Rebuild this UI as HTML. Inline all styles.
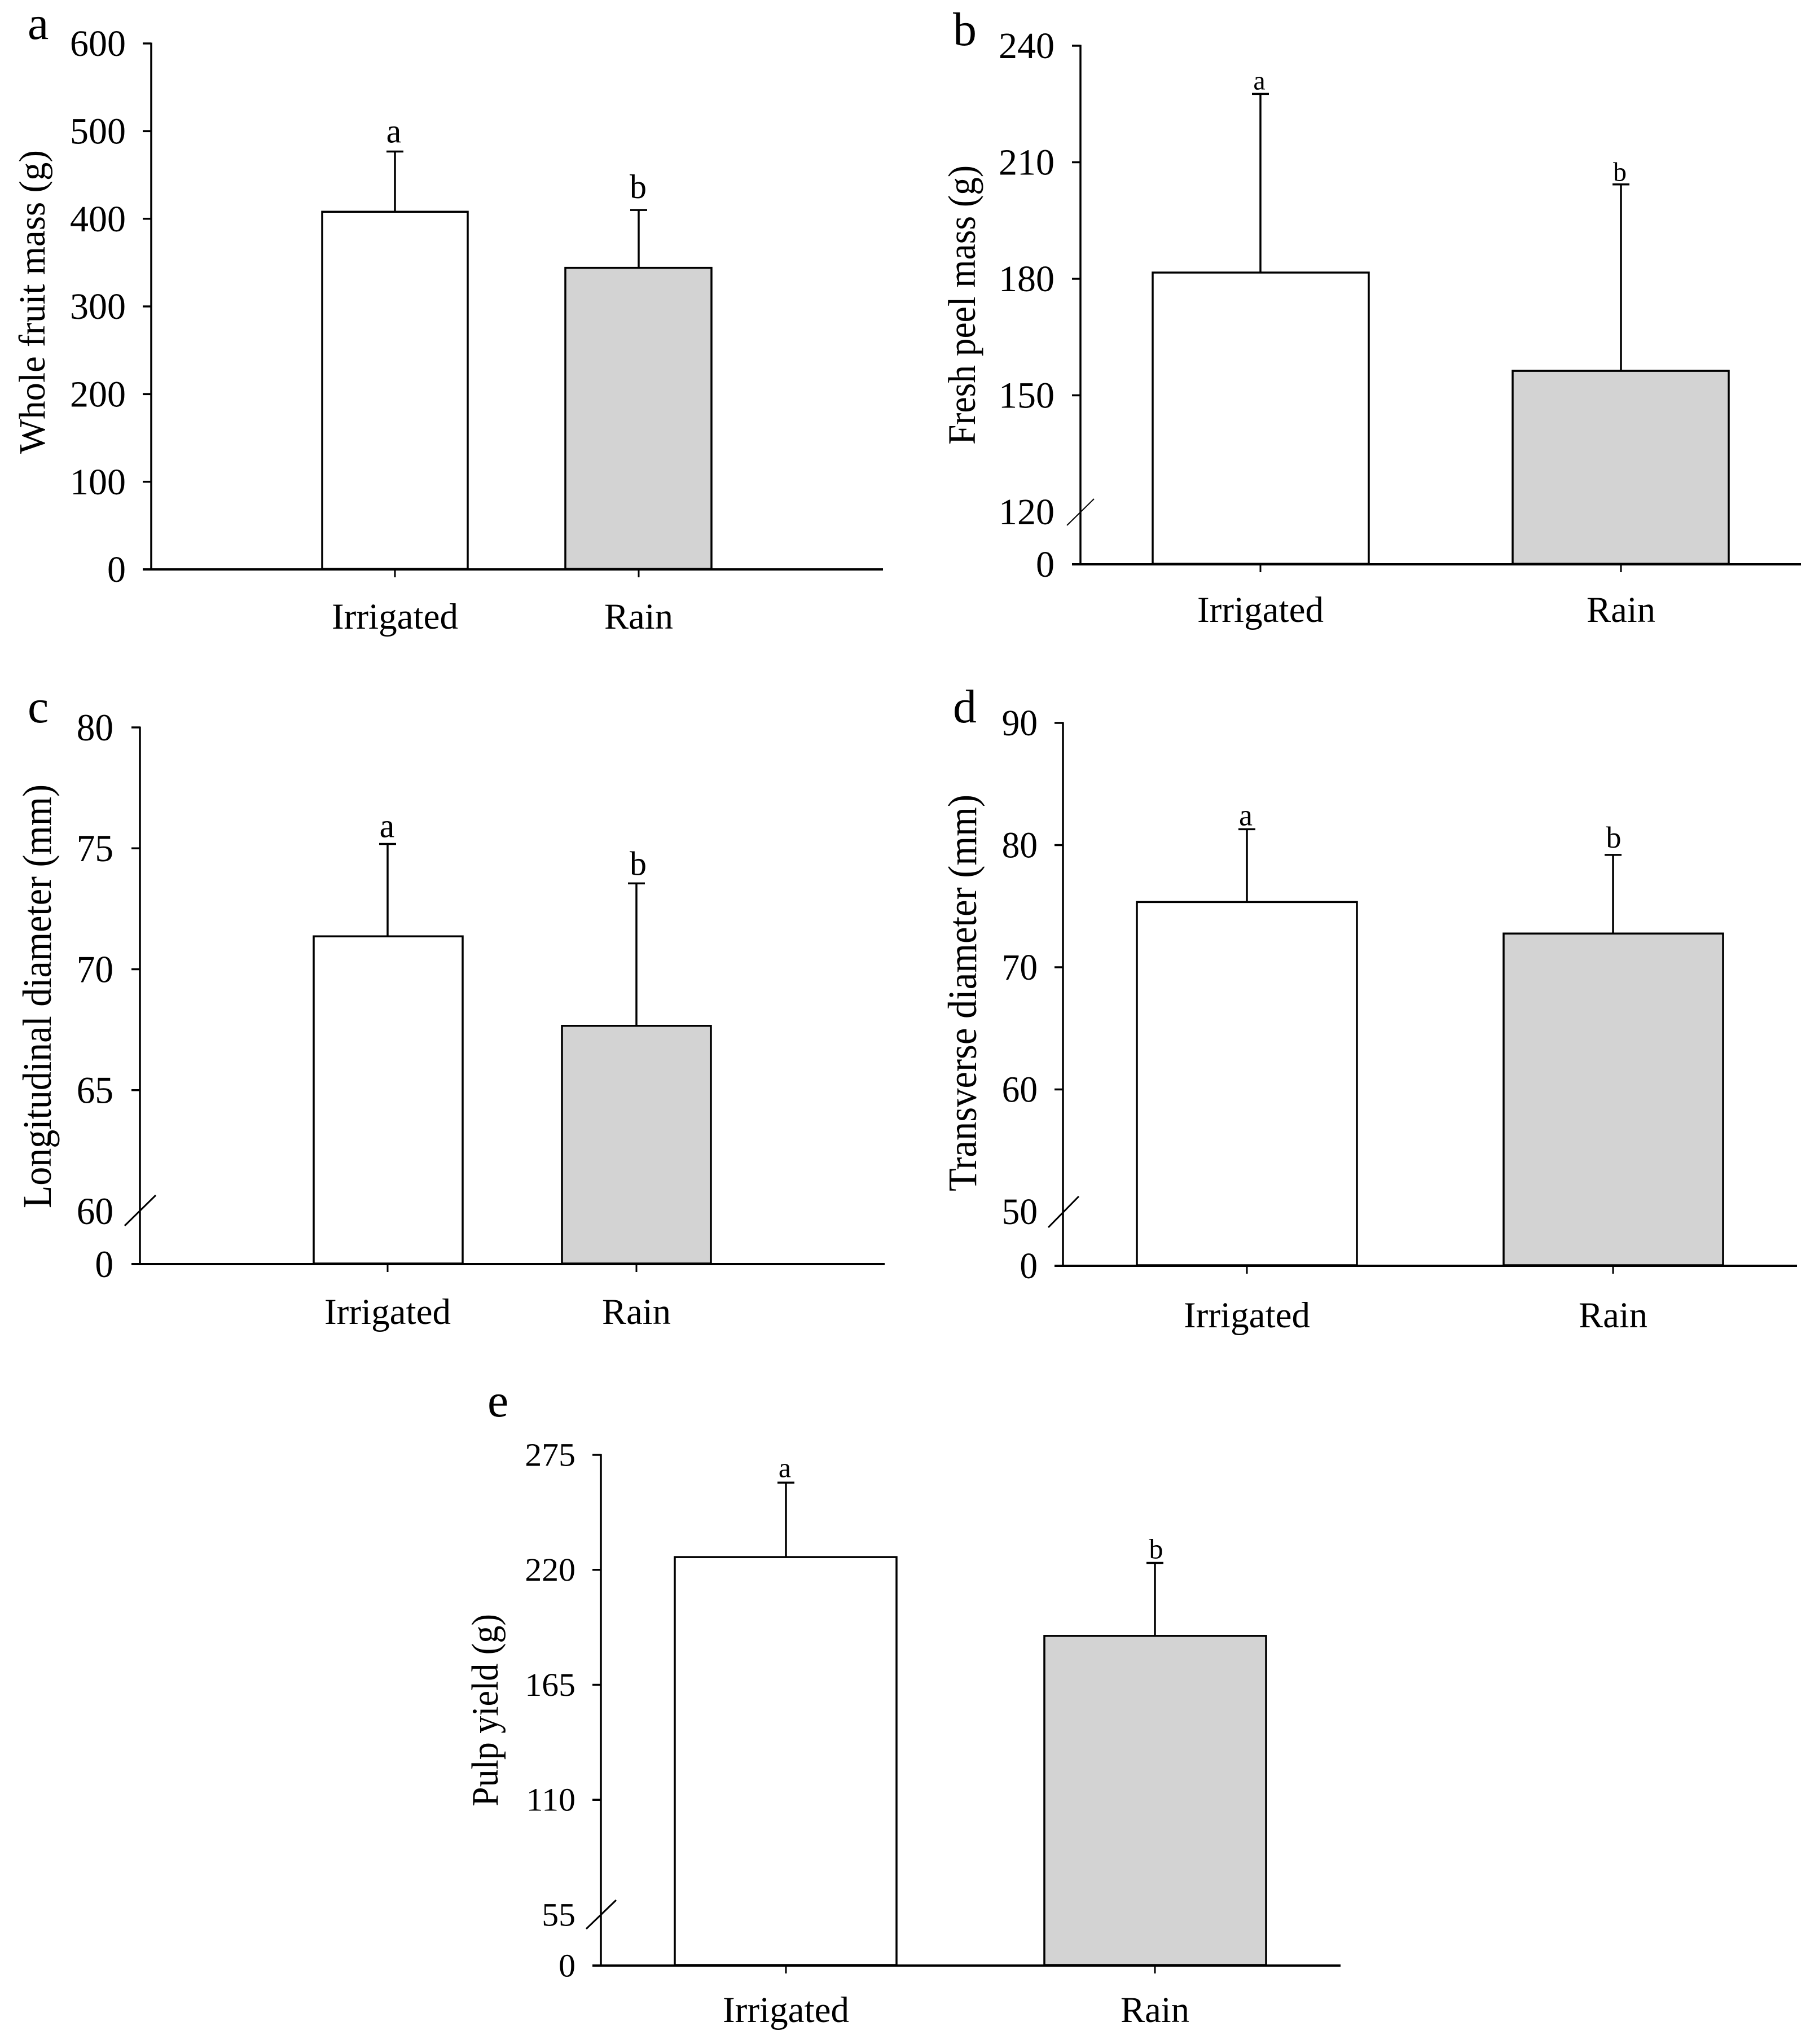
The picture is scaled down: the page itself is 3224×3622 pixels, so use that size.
<!DOCTYPE html>
<html lang="en">
<head>
<meta charset="utf-8">
<title>Fruit mass and size under irrigated and rain conditions</title>
<style>
html,body{margin:0;padding:0;background:#fff;}
svg{display:block;}
text{font-family:"Liberation Serif","Times New Roman",serif;fill:#000;}
</style>
</head>
<body>
<svg id="figure" xmlns="http://www.w3.org/2000/svg" width="3224" height="3622" viewBox="0 0 3224 3622">
<rect x="0" y="0" width="3224" height="3622" fill="#ffffff"/>
</svg>
<script>
const categories = ['Irrigated', 'Rain'];
const significance = ['a', 'b'];

const aTicks = [0, 100, 200, 300, 400, 500, 600];
const aMeans = [408, 344];
const aErrors = [68.7, 66];

const bTicks = [0, 120, 150, 180, 210, 240];
const bMeans = [181.6, 156.3];
const bErrors = [46, 48];

const cTicks = [0, 60, 65, 70, 75, 80];
const cMeans = [71.36, 67.66];
const cErrors = [3.82, 5.89];

const dTicks = [0, 50, 60, 70, 80, 90];
const dMeans = [75.34, 72.76];
const dErrors = [5.96, 6.44];

const eTicks = [0, 55, 110, 165, 220, 275];
const eMeans = [226.1, 188.4];
const eErrors = [35.6, 34.9];

const panels = [
  {id:'a', title:'Whole fruit mass (g)', ticks:aTicks, means:aMeans, errors:aErrors, breakValue:0,
   axisX:268, xEnd:1565, y0:1009, yTop:77, yBreak:1009, barEdges:[[571,829],[1002,1261]], centers:[700,1132],
   slash:null, slashWidth:2, tickFont:66, tickSx:1, tickRight:223, sigFont:60, sigGap:[16,21], sigDx:[-2,-1],
   labelY:1114, letter:[49,69], titleX:79, titleBottom:804, titleLen:538, titleFont:66},
  {id:'b', title:'Fresh peel mass (g)', ticks:bTicks, means:bMeans, errors:bErrors, breakValue:120,
   axisX:1915, xEnd:3192, y0:1000, yTop:81, yBreak:907, barEdges:[[2043,2426],[2681,3064]], centers:[2234,2873],
   slash:[1891,931,1939,884], slashWidth:2, tickFont:66, tickSx:1, tickRight:1869, sigFont:48, sigGap:[8,6], sigDx:[-2,-2],
   labelY:1102, letter:[1689,80], titleX:1728, titleBottom:788, titleLen:495, titleFont:69},
  {id:'c', title:'Longitudinal diameter (mm)', ticks:cTicks, means:cMeans, errors:cErrors, breakValue:60,
   axisX:248, xEnd:1568, y0:2240, yTop:1289, yBreak:2146, barEdges:[[556,820],[996,1260]], centers:[687,1128],
   slash:[221,2172,276,2118], slashWidth:3, tickFont:68, tickSx:0.96, tickRight:201, sigFont:60, sigGap:[12,15], sigDx:[-1,3],
   labelY:2346, letter:[49,1280], titleX:90, titleBottom:2141, titleLen:751, titleFont:72},
  {id:'d', title:'Transverse diameter (mm)', ticks:dTicks, means:dMeans, errors:dErrors, breakValue:50,
   axisX:1884, xEnd:3185, y0:2243, yTop:1281, yBreak:2147, barEdges:[[2015,2405],[2665,3054]], centers:[2210,2859],
   slash:[1858,2175,1912,2120], slashWidth:3, tickFont:66, tickSx:0.96, tickRight:1839, sigFont:54, sigGap:[7,13], sigDx:[-2,1],
   labelY:2352, letter:[1689,1280], titleX:1730, titleBottom:2111, titleLen:703, titleFont:72},
  {id:'e', title:'Pulp yield (g)', ticks:eTicks, means:eMeans, errors:eErrors, breakValue:55,
   axisX:1065, xEnd:2376, y0:3483, yTop:2578, yBreak:3393, barEdges:[[1196,1589],[1851,2244]], centers:[1393,2047],
   slash:[1039,3418,1092,3367], slashWidth:3, tickFont:58, tickSx:1.03, tickRight:1020, sigFont:50, sigGap:[10,8], sigDx:[-2,2],
   labelY:3583, letter:[864,2510], titleX:882, titleBottom:3201, titleLen:341, titleFont:67}
];

const SVG_NS = 'http://www.w3.org/2000/svg';
const figure = document.getElementById('figure');

function make(tag, attrs, parent) {
  const node = document.createElementNS(SVG_NS, tag);
  Object.keys(attrs).forEach(function (k) { node.setAttribute(k, attrs[k]); });
  parent.appendChild(node);
  return node;
}

function yScale(p, v) {
  if (v <= 0) return p.y0;
  const lo = p.breakValue;
  const hi = p.ticks[p.ticks.length - 1];
  return p.yBreak + (v - lo) / (hi - lo) * (p.yTop - p.yBreak);
}

panels.forEach(function (p) {
  const g = make('g', {}, figure);
  
  

  const letter = make('text', {x:p.letter[0], y:p.letter[1], 'font-size':84}, g);
  letter.textContent = p.id;
  
  

  const title = make('text', {
    transform:'translate(' + p.titleX + ',' + p.titleBottom + ') rotate(-90)',
    'font-size':p.titleFont, textLength:p.titleLen, lengthAdjust:'spacingAndGlyphs'
  }, g);
  title.textContent = p.title;
  
  

  p.means.forEach(function (mean, i) {
    const top = yScale(p, mean);
    const errTop = yScale(p, mean + p.errors[i]);
    const cx = p.centers[i];
    const edges = p.barEdges[i];

    const err = make('line', {x1:cx, x2:cx, y1:top, y2:errTop, stroke:'#000', 'stroke-width':3.5}, g);
    
    

    const cap = make('line', {x1:cx - 15, x2:cx + 15, y1:errTop, y2:errTop, stroke:'#000', 'stroke-width':3.5}, g);
    
    

    const bar = make('rect', {
      x:edges[0], y:top, width:edges[1] - edges[0], height:p.y0 - 1 - top,
      fill:i === 0 ? '#ffffff' : '#d3d3d3', stroke:'#000', 'stroke-width':3.5
    }, g);
    
    

    const sig = make('text', {
      x:cx + p.sigDx[i], y:errTop - p.sigGap[i], 'font-size':p.sigFont, 'text-anchor':'middle'
    }, g);
    sig.textContent = significance[i];
    
    

    const tick = make('line', {x1:cx, x2:cx, y1:p.y0, y2:p.y0 + 14, stroke:'#000', 'stroke-width':3}, g);
    
    

    const label = make('text', {
      x:cx, y:p.labelY, 'font-size':65, 'text-anchor':'middle',
      textLength:i === 0 ? 224 : 122, lengthAdjust:'spacingAndGlyphs'
    }, g);
    label.textContent = categories[i];
    
    
  });

  const yAxis = make('line', {x1:p.axisX, x2:p.axisX, y1:p.yTop - 1.5, y2:p.y0, stroke:'#000', 'stroke-width':3.5}, g);
  
  

  const xAxis = make('line', {x1:p.axisX - 15, x2:p.xEnd, y1:p.y0, y2:p.y0, stroke:'#000', 'stroke-width':4}, g);
  
  

  p.ticks.forEach(function (t) {
    const y = yScale(p, t);
    if (t !== 0 && t !== p.breakValue) {
      const mark = make('line', {x1:p.axisX - 15, x2:p.axisX, y1:y, y2:y, stroke:'#000', 'stroke-width':3.5}, g);
      
      
    }
    const tickLabel = make('text', {
      transform:'translate(' + p.tickRight + ',' + (y + p.tickFont * 0.335) + ') scale(' + p.tickSx + ',1)',
      'font-size':p.tickFont, 'text-anchor':'end'
    }, g);
    tickLabel.textContent = String(t);
    
    
  });

  if (p.slash) {
    const slash = make('line', {x1:p.slash[0], y1:p.slash[1], x2:p.slash[2], y2:p.slash[3], stroke:'#000', 'stroke-width':p.slashWidth}, g);
    
    
  }
});
</script>
</body>
</html>
